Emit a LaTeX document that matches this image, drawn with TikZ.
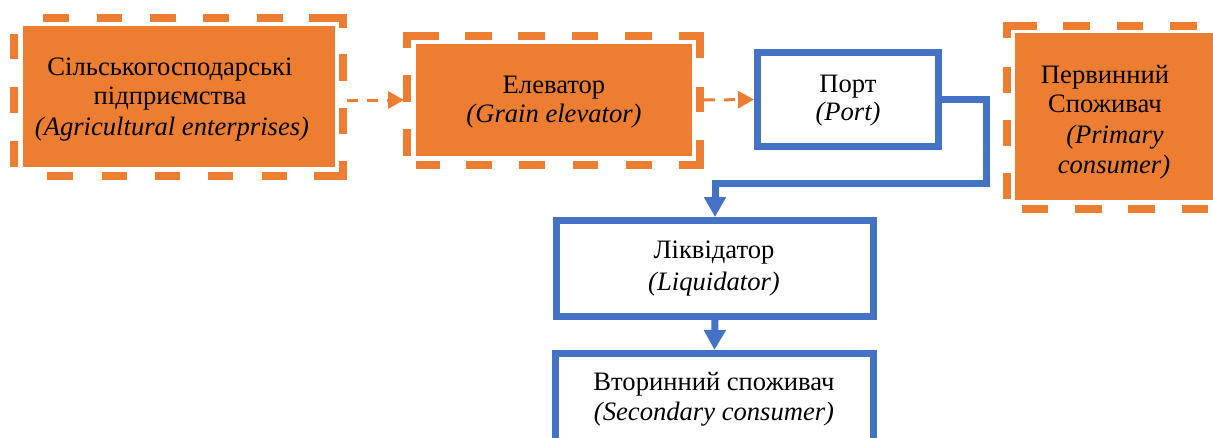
\documentclass[tikz,border=0pt]{standalone}
\usepackage{fontspec}
\setmainfont{Liberation Serif}
\usetikzlibrary{arrows.meta}
\definecolor{orng}{HTML}{ED7D31}
\definecolor{blu}{HTML}{4472C4}
\tikzset{
  orangebox/.style={rectangle, draw=none, fill=orng, inner sep=0pt, outer sep=0pt},
  bluebox/.style={rectangle, draw=blu, line width=7pt, fill=white, inner sep=0pt},
  framedash/.style={draw=orng, line width=8pt},
  txt/.style={anchor=base, inner sep=0pt, font=\fontsize{26.6}{30}\selectfont},
  itxt/.style={anchor=base, inner sep=0pt, font=\fontsize{26.6}{30}\selectfont\itshape},
  dashflow/.style={draw=orng, line width=3pt, dash pattern=on 11pt off 9pt,
    -{Triangle[length=16pt,width=17pt]}},
  flow/.style={draw=blu, line width=7pt, -{Triangle[length=20pt,width=21pt]}},
}
% one side of a dashed frame: horizontal dashes at height #1, vertical ones at x = #1
\newcommand\hdashes[2]{\foreach \a/\b in {#2} \draw[framedash] (\a,#1) -- (\b,#1);}
\newcommand\vdashes[2]{\foreach \a/\b in {#2} \draw[framedash] (#1,\a) -- (#1,\b);}
\begin{document}
\begin{tikzpicture}[x=1pt, y=-1pt]
\useasboundingbox (0,0) rectangle (1213,437);
\clip (0,0) rectangle (1213,437);

% orange boxes
\node[orangebox, minimum width=312pt, minimum height=141pt] (agr) at (179,96.5) {};
\node[orangebox, minimum width=276pt, minimum height=112pt] (elev) at (554,100) {};
\node[orangebox, minimum width=210pt, minimum height=167pt] (prim) at (1120,116.5) {};

% dashed frames round the orange boxes
\hdashes{17.5}{43/69, 97/122, 150/176, 203/229, 257/283, 309/347}
\vdashes{343}{13.5/28, 54/81, 108/134, 161/180}
\hdashes{176}{47/73, 102/127, 155/180, 208/233, 262/287, 314/347}
\vdashes{13.5}{34/59, 87/113, 141/167}

\hdashes{36}{403/439, 465/492, 518/545, 572/598, 625/652, 679/704}
\vdashes{700}{32/58, 87/112, 140/169}
\hdashes{165}{416/440, 466/492, 519/545, 573/598, 626/652, 679/704}
\vdashes{407}{32/48, 75/102, 129/156}

\hdashes{25.5}{1003/1037, 1063/1090, 1117/1143, 1170/1197}
\vdashes{1007}{21.5/38, 67/93, 120/146, 173/199}
\hdashes{208.5}{1022/1048, 1075/1102, 1128/1155, 1182/1208}

% blue boxes
\node[bluebox, minimum width=181pt, minimum height=94pt] (port) at (848,99.5) {};
\node[bluebox, minimum width=317pt, minimum height=96pt] (liq) at (715,268.5) {};
\node[bluebox, minimum width=318pt, minimum height=140pt] (sec) at (714.5,423.5) {};

% connectors
\draw[dashflow] (agr.east |- elev.west) ++(12pt,0pt) -- ([xshift=-12pt]elev.west);
\draw[dashflow] ([xshift=12pt]elev.east) -- (port.west);
\draw[flow] (port.east) -- ++(44,0) -- ++(0,84) -| (liq.north);
\draw[flow] (liq.south) -- (sec.north);

% labels
\node[txt] (agr1) at (170,75) {Сільськогосподарські};
\node[txt] (agr2) at (170,104) {підприємства};
\node[itxt] (agr3) at (172,135) {(Agricultural enterprises)};

\node[txt] (elev1) at (554,93) {Елеватор};
\node[itxt] (elev2) at (554,122) {(Grain elevator)};

\node[txt] (port1) at (848,92) {Порт};
\node[itxt] (port2) at (848,120) {(Port)};

\node[txt] (prim1) at (1105,83) {Первинний};
\node[txt] (prim2) at (1105,112) {Споживач};
\node[itxt] (prim3) at (1115,143) {(Primary};
\node[itxt] (prim4) at (1114,173) {consumer)};

\node[txt] (liq1) at (714,258) {Ліквідатор};
\node[itxt] (liq2) at (714,290) {(Liquidator)};

\node[txt] (sec1) at (714,390) {Вторинний споживач};
\node[itxt] (sec2) at (714,420) {(Secondary consumer)};
\end{tikzpicture}
\end{document}
